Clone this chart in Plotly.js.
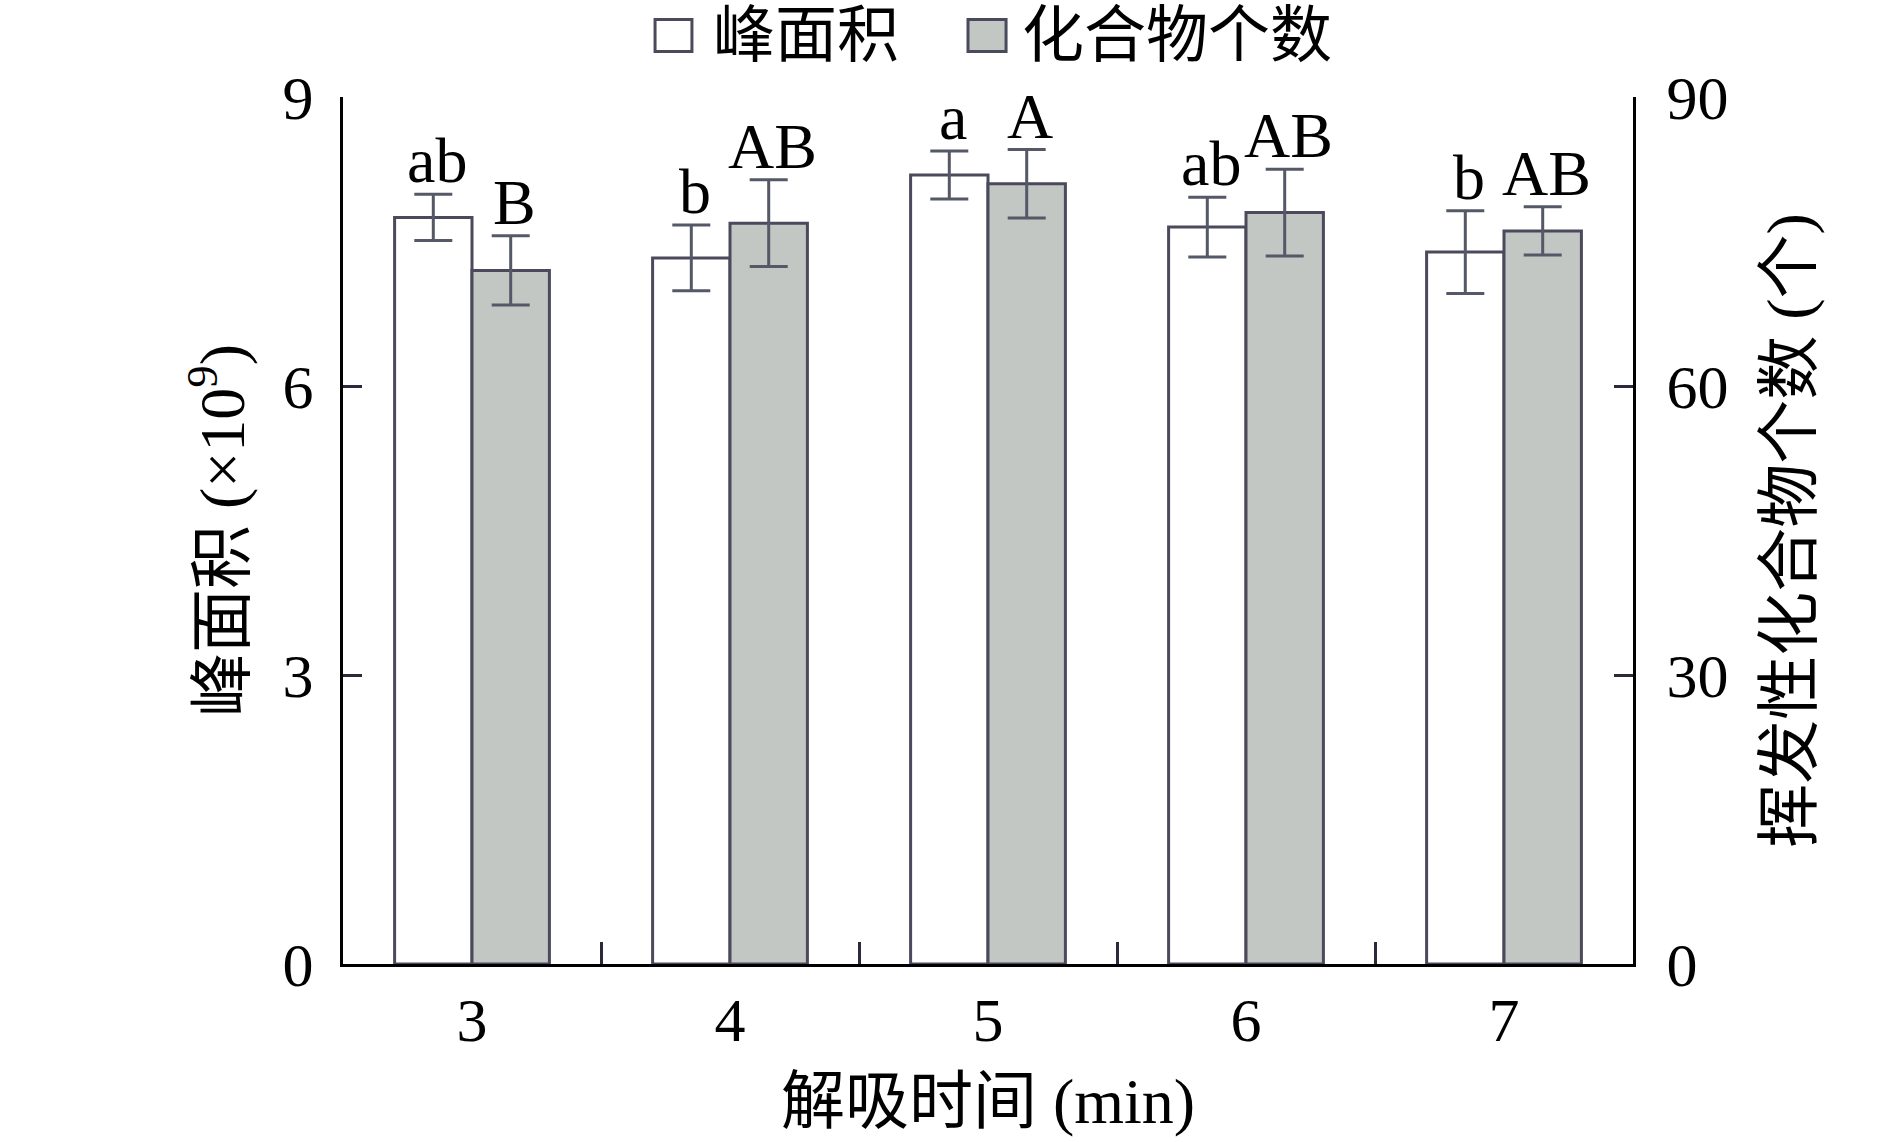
<!DOCTYPE html>
<html>
<head>
<meta charset="utf-8">
<script src="https://cdn.plot.ly/plotly-3.0.1.min.js"></script>
<style>html,body{margin:0;padding:0;background:#fff;}#chart{width:1890px;height:1142px;}</style>
</head>
<body>
<div id="chart"></div>
<script>
// ---- data ----
const categories = ['3', '4', '5', '6', '7'];
const peakArea = [7.75, 7.33, 8.19, 7.65, 7.39];          // ×10^9
const peakAreaErr = [0.24, 0.34, 0.25, 0.31, 0.43];
const compoundCount = [72.0, 76.9, 81.0, 78.0, 76.1];     // 个
const compoundCountErr = [3.6, 4.5, 3.55, 4.5, 2.5];
const peakLetters = ['ab', 'b', 'a', 'ab', 'b'];
const countLetters = ['B', 'AB', 'A', 'AB', 'AB'];
const seriesNames = ['峰面积', '化合物个数'];
const xTitle = '解吸时间 (min)';
const yTitle = '峰面积 (×10<sup>9</sup>)';
const y2Title = '挥发性化合物个数 (个)';

const FONT = "'Liberation Serif', 'Noto Sans CJK SC', serif";
const EDGE = '#4a4a5c';
const GREY = '#c3c7c4';
const ERR = '#555866';

const traces = [
  {
    type: 'bar', name: seriesNames[0], x: categories, y: peakArea,
    yaxis: 'y', offsetgroup: 'a', alignmentgroup: 'g',
    marker: {color: '#ffffff', line: {color: EDGE, width: 3}},
    error_y: {type: 'data', array: peakAreaErr, visible: true, color: ERR, thickness: 3, width: 19},
    showlegend: false
  },
  {
    type: 'bar', name: seriesNames[1], x: categories, y: compoundCount,
    yaxis: 'y2', offsetgroup: 'b', alignmentgroup: 'g',
    marker: {color: GREY, line: {color: EDGE, width: 3}},
    error_y: {type: 'data', array: compoundCountErr, visible: true, color: ERR, thickness: 3, width: 19},
    showlegend: false
  }
];

const annotations = [];
categories.forEach((c, i) => {
  annotations.push({
    xref: 'x', yref: 'y', x: i, y: peakArea[i] + peakAreaErr[i],
    text: peakLetters[i], showarrow: false, xanchor: 'center', yanchor: 'bottom',
    xshift: -35, yshift: -4, font: {family: FONT, size: 64, color: '#000'}
  });
  annotations.push({
    xref: 'x', yref: 'y2', x: i, y: compoundCount[i] + compoundCountErr[i],
    text: countLetters[i], showarrow: false, xanchor: 'center', yanchor: 'bottom',
    xshift: 42, yshift: -4, font: {family: FONT, size: 64, color: '#000'}
  });
});
// custom legend text
annotations.push({xref: 'paper', yref: 'paper', x: 0.2853, y: 1.0699, xanchor: 'left', yanchor: 'middle',
  text: seriesNames[0], showarrow: false, font: {family: FONT, size: 62, color: '#000'}});
annotations.push({xref: 'paper', yref: 'paper', x: 0.5248, y: 1.0699, xanchor: 'left', yanchor: 'middle',
  text: seriesNames[1], showarrow: false, font: {family: FONT, size: 62, color: '#000'}});

const shapes = [
  {type: 'rect', xref: 'paper', yref: 'paper', x0: 0.2419, x1: 0.2705, y0: 1.0526, y1: 1.0895,
   fillcolor: '#ffffff', line: {color: EDGE, width: 3}},
  {type: 'rect', xref: 'paper', yref: 'paper', x0: 0.4845, x1: 0.514, y0: 1.0526, y1: 1.0895,
   fillcolor: GREY, line: {color: EDGE, width: 3}}
];

const axisCommon = {
  showgrid: false, zeroline: false, showline: true, linecolor: '#000', linewidth: 3,
  ticks: 'inside', tickcolor: '#2a2a3a', tickwidth: 3,
  tickfont: {family: FONT, size: 62, color: '#000'}
};

const layout = {
  width: 1890, height: 1142,
  margin: {l: 343, r: 257, t: 97, b: 178},
  paper_bgcolor: '#fff', plot_bgcolor: '#fff',
  barmode: 'group', bargap: 0.4, bargroupgap: 0,
  showlegend: false,
  font: {family: FONT, color: '#000'},
  xaxis: Object.assign({}, axisCommon, {
    type: 'category', range: [-0.5, 4.5], tickson: 'boundaries', ticklen: 22, ticklabelstandoff: 0,
    title: {text: xTitle, font: {family: FONT, size: 64, color: '#000'}, standoff: 25}
  }),
  yaxis: Object.assign({}, axisCommon, {
    range: [0, 9], tickvals: [0, 3, 6, 9], ticklen: 19, ticklabelstandoff: 14,
    title: {text: yTitle, font: {family: FONT, size: 64, color: '#000'}, standoff: 18}
  }),
  yaxis2: Object.assign({}, axisCommon, {
    overlaying: 'y', side: 'right', range: [0, 90], tickvals: [0, 30, 60, 90], ticklen: 19, ticklabelstandoff: 18,
    title: {text: y2Title, font: {family: FONT, size: 64, color: '#000'}, standoff: 39}
  }),
  annotations: annotations,
  shapes: shapes
};

Plotly.newPlot('chart', traces, layout, {displayModeBar: false, staticPlot: true});
</script>
</body>
</html>
